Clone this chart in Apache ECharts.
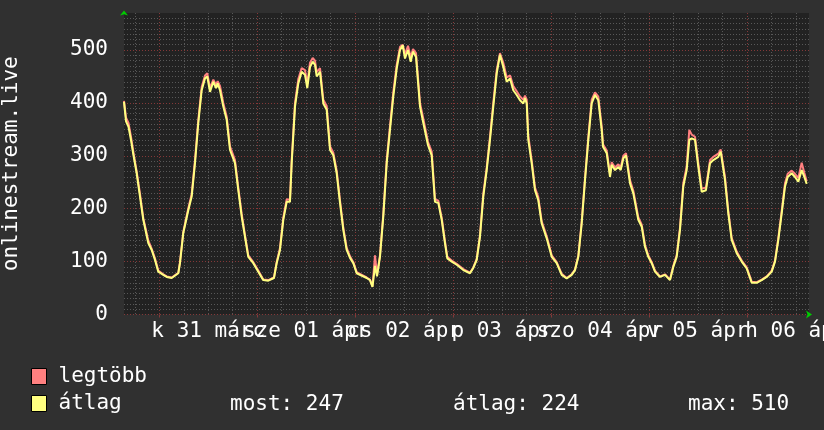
<!DOCTYPE html>
<html><head><meta charset="utf-8">
<script src="https://cdn.jsdelivr.net/npm/echarts@6/dist/echarts.min.js"></script>
<style>html,body{margin:0;padding:0;background:#303030}#c{width:824px;height:430px}</style>
</head><body><div id="c"></div>
<script>
// hours relative to 31 márc 00:00
const hours = [-8.65,-8.16,-7.55,-6.94,-6.37,-5.54,-4.73,-3.92,-2.70,-1.86,-1.05,-0.25,0.98,1.81,3.04,4.66,5.07,5.88,7.11,7.94,8.75,9.56,10.39,11.20,11.76,12.43,13.24,13.90,14.31,14.88,15.69,16.52,17.33,18.55,19.36,20.20,21.00,21.81,23.04,24.26,25.49,26.72,28.11,28.77,29.58,30.39,31.23,32.03,32.45,33.26,34.07,34.90,35.71,36.27,36.94,37.60,38.16,38.58,39.39,40.20,41.03,41.84,42.65,43.48,44.29,45.10,45.93,46.74,47.55,48.38,50.83,51.64,52.25,52.87,53.36,54.09,54.90,55.74,56.54,57.35,58.19,59.00,59.66,60.22,60.96,61.62,62.18,62.92,63.90,64.71,65.86,66.76,67.57,68.38,69.22,70.02,70.59,71.67,72.89,74.51,76.15,76.96,77.79,78.60,79.41,80.25,81.05,81.86,82.70,83.50,84.31,85.15,85.96,86.76,87.60,88.41,89.22,89.63,90.05,90.44,91.27,92.08,92.89,93.73,94.95,96.18,97.40,98.63,99.85,101.08,101.89,102.70,103.53,104.34,105.15,105.98,106.79,107.60,108.43,108.75,109.66,110.47,110.88,111.69,112.50,113.09,113.73,114.39,115.37,116.18,117.40,118.24,119.04,119.85,120.69,121.49,122.72,123.95,125.17,125.98,126.81,127.62,128.43,129.26,129.90,130.49,131.30,132.11,132.94,133.99,134.98,135.78,137.01,137.60,138.65,139.46,140.29,141.52,142.75,143.97,145.20,146.42,147.65,148.87,150.10,150.91,151.72,152.55,153.36,154.02,155.00,155.81,156.62,157.45,158.09,158.68];
const avgValues = [402,365,355,330,303,267,223,179,135,122,103,81,75,71,69,78,97,154,197,223,286,362,424,446,450,421,440,428,437,424,393,368,311,286,235,185,147,109,97,81,65,64,69,97,122,179,213,213,286,393,437,459,453,428,468,478,472,450,459,399,387,311,301,267,211,160,122,107,97,78,69,65,52,92,72,109,185,286,349,412,465,500,509,484,500,478,497,487,393,362,320,301,213,211,179,135,106,100,94,84,78,88,103,147,223,273,330,393,456,491,468,440,446,424,415,405,399,409,399,330,286,235,216,172,144,109,97,75,68,75,84,109,172,254,330,399,415,405,349,317,305,260,283,273,279,273,295,301,248,229,179,166,128,109,97,81,71,75,65,90,109,160,242,273,330,333,330,279,232,235,286,292,298,308,254,191,141,116,100,87,60,60,65,71,81,100,141,191,242,260,267,260,251,273,260,247];
const maxValues = [404,372,362,336,308,270,228,182,140,124,106,83,76,72,70,79,99,156,201,228,292,368,430,452,456,428,444,434,441,432,400,374,318,292,240,190,150,112,99,83,66,65,70,99,126,183,218,217,292,400,445,466,462,436,476,485,480,458,466,406,394,318,306,272,216,164,126,110,99,80,70,66,53,112,75,112,190,292,356,420,472,506,510,492,508,486,502,494,400,370,326,308,218,215,183,138,109,102,96,86,79,89,105,150,228,278,336,400,462,494,476,448,452,432,422,412,406,414,406,338,292,240,222,176,148,112,99,77,69,76,85,111,176,258,336,406,420,412,356,322,310,266,288,278,284,278,300,305,254,234,184,170,132,112,99,83,72,76,66,92,112,164,248,280,349,340,336,286,238,240,292,298,304,312,260,196,145,119,102,89,62,61,66,72,83,102,145,196,248,266,272,266,258,287,268,252];
const seriesNames = ['legtöbb', 'átlag'];
const seriesColors = ['#ff8080', '#ffff80'];
const yLabelValues = [0, 100, 200, 300, 400, 500];
const midnightHours = [0, 24, 48, 72, 96, 120, 144];
const dayLabelHours = [12, 36, 60, 84, 108, 132, 156];
const dayLabels = ['k 31 márc', 'sze 01 ápr', 'cs 02 ápr', 'p 03 ápr', 'szo 04 ápr', 'v 05 ápr', 'h 06 ápr'];
const statTexts = ['most: 247', 'átlag: 224', 'max: 510'];
const yTitle = 'onlinestream.live';

const X_MIN = -8.65, X_MAX = 159.24, Y_MAX = 570;
const minorHours = []; for (let h = -6; h <= 156; h += 6) minorHours.push(h);
const minorY = []; for (let v = 0; v <= 560; v += 10) minorY.push(v);
// day labels split over two axes so neighbouring (overlapping) labels are not auto-hidden
const labelHoursA = dayLabelHours.filter((_, i) => i % 2 === 0);
const labelHoursB = dayLabelHours.filter((_, i) => i % 2 === 1);
const dayLabelFor = v => { const i = dayLabelHours.indexOf(v); return i >= 0 ? dayLabels[i] : ''; };

const FONT = 'DejaVu Sans Mono';
const MINOR = '#585858', MAJOR = '#843838';
const chart = echarts.init(document.getElementById('c'), null, {renderer: 'canvas'});
const hidden = {show: false};
const labelStyle = {color: '#ffffff', fontFamily: FONT, fontSize: 21, margin: 7, showMinLabel: true, showMaxLabel: true, hideOverlap: false, formatter: dayLabelFor};
chart.setOption({
  animation: false,
  backgroundColor: '#303030',
  textStyle: {fontFamily: FONT},
  grid: {left: 124, right: 15, top: 13, bottom: 115.5, show: true, backgroundColor: '#222222', borderWidth: 0, containLabel: false, outerBoundsMode: 'none'},
  legend: {
    orient: 'vertical', left: 31, top: 366, padding: 0, itemWidth: 15, itemHeight: 16, itemGap: 6,
    icon: 'rect', data: seriesNames, selectedMode: false,
    itemStyle: {borderColor: '#000', borderWidth: 1},
    textStyle: {color: '#ffffff', fontFamily: FONT, fontSize: 21, padding: [0, 0, 0, 7]}
  },
  graphic: statTexts.map((t, i) => ({
    type: 'text', left: [230, 453, 688][i], top: 394,
    style: {text: t, fill: '#ffffff', font: '21px "' + FONT + '"'}
  })),
  xAxis: [
    {
      type: 'value', min: X_MIN, max: X_MAX, position: 'bottom',
      axisLine: {show: true, onZero: false, symbol: ['none', 'arrow'], symbolSize: [6, 6], symbolOffset: [0, 3], lineStyle: {color: '#00cc00', width: 0}},
      axisTick: {show: false, customValues: minorHours},
      splitLine: {show: true, lineStyle: {color: MINOR, width: 1, type: [1, 2]}},
      axisLabel: Object.assign({show: true, customValues: labelHoursA}, labelStyle)
    },
    {
      type: 'value', min: X_MIN, max: X_MAX, position: 'bottom',
      axisLine: {show: false, onZero: false},
      axisTick: {show: true, customValues: midnightHours, length: 3, lineStyle: {color: MAJOR}},
      splitLine: {show: true, lineStyle: {color: MAJOR, width: 1, type: [1, 2]}},
      axisLabel: Object.assign({show: true, customValues: labelHoursB}, labelStyle)
    }
  ],
  yAxis: [
    {
      type: 'value', min: 0, max: Y_MAX, position: 'left',
      axisLine: {show: false, onZero: false}, axisLabel: hidden,
      axisTick: {show: false, customValues: minorY},
      splitLine: {show: true, lineStyle: {color: MINOR, width: 1, type: [1, 2]}}
    },
    {
      type: 'value', min: 0, max: Y_MAX, position: 'left',
      name: yTitle, nameLocation: 'middle', nameGap: 102,
      nameTextStyle: {color: '#ffffff', fontFamily: FONT, fontSize: 21},
      axisLine: {show: true, onZero: false, symbol: ['none', 'arrow'], symbolSize: [6, 5], symbolOffset: [0, 2.5], lineStyle: {color: '#00cc00', width: 0}},
      axisTick: {show: false, customValues: yLabelValues},
      splitLine: {show: true, lineStyle: {color: MAJOR, width: 1, type: [1, 2]}},
      axisLabel: {show: true, customValues: yLabelValues, color: '#ffffff', fontFamily: FONT, fontSize: 21, margin: 16}
    }
  ],
  series: seriesNames.map((name, s) => ({
    name, type: 'line', xAxisIndex: 0, yAxisIndex: 1, showSymbol: false, symbol: 'none',
    color: seriesColors[s],
    lineStyle: {color: seriesColors[s], width: 2},
    data: hours.map((h, i) => [h, (s === 0 ? maxValues : avgValues)[i]])
  }))
});
</script></body></html>
